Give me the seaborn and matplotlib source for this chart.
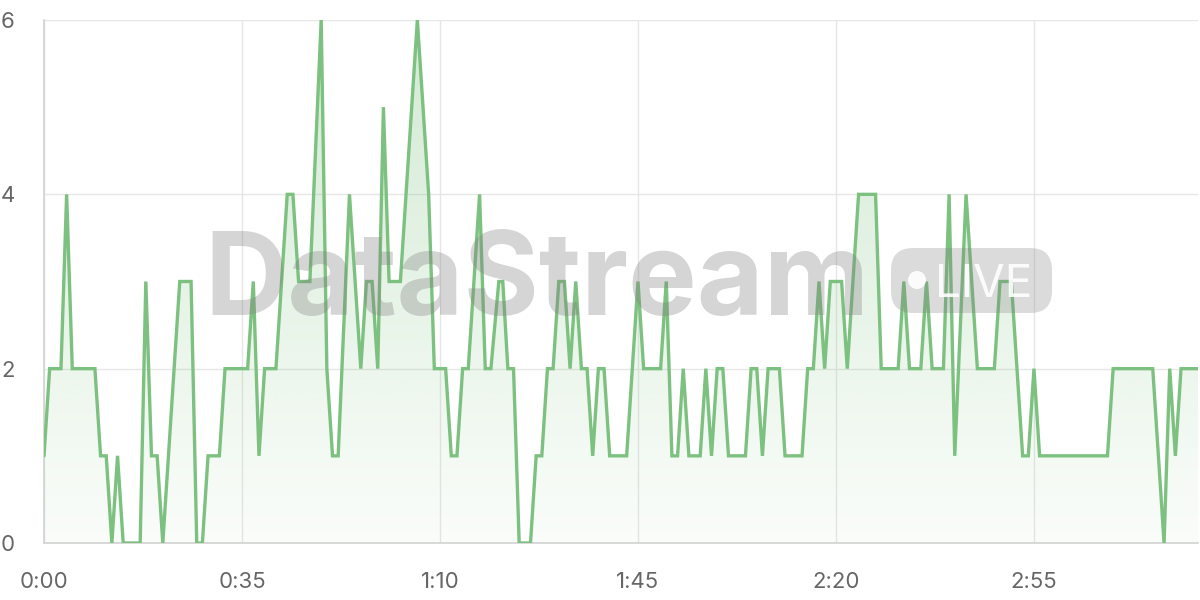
import numpy as np
import pandas as pd
import matplotlib
matplotlib.use("Agg")
import matplotlib.pyplot as plt
from matplotlib.colors import to_rgb
from matplotlib.patches import FancyBboxPatch, Circle
from matplotlib.ticker import FuncFormatter
import seaborn as sns

# readings (seconds since start, active count) - only the corners of the line
seconds = [0, 1, 3, 4, 5, 9, 10, 11, 12, 13, 14, 17, 18, 19, 20, 21, 24, 26, 27, 28,
           29, 31, 32, 36, 37, 38, 39, 41, 43, 44, 45, 47, 49, 50, 51, 52, 54, 56, 57, 58,
           59, 60, 61, 63, 66, 68, 69, 71, 72, 73, 74, 75, 77, 78, 79, 80.4, 81.1, 82, 83, 84,
           86, 87, 88, 89, 90, 91, 92, 93, 94, 95, 96, 97, 98, 99, 100, 103, 105, 106, 109, 110,
           111, 112, 113, 114, 116, 117, 118, 119, 120, 121, 124, 125, 126, 127, 128, 130, 131, 134, 135, 136,
           137, 138, 139, 141, 142, 144, 147, 148, 151, 152, 153, 155, 156, 157, 159, 160, 161, 163, 165, 168,
           169, 171, 173, 174, 175, 176, 188, 189, 196, 198, 199, 200, 201, 204]
counts = [1, 2, 2, 4, 2, 2, 1, 1, 0, 1, 0, 0, 3, 1, 1, 0, 3, 3, 0, 0,
          1, 1, 2, 2, 3, 1, 2, 2, 4, 4, 3, 3, 6, 2, 1, 1, 4, 2, 3, 3,
          2, 5, 3, 3, 6, 4, 2, 2, 1, 1, 2, 2, 4, 2, 2, 3, 3, 2, 2, 0,
          0, 1, 1, 2, 2, 3, 3, 2, 3, 2, 2, 1, 2, 2, 1, 1, 3, 2, 2, 3,
          1, 1, 2, 1, 1, 2, 1, 2, 2, 1, 1, 2, 2, 1, 2, 2, 1, 1, 2, 2,
          3, 2, 3, 3, 2, 4, 4, 2, 2, 3, 2, 2, 3, 2, 2, 4, 1, 4, 2, 2,
          3, 3, 1, 1, 2, 1, 1, 2, 2, 0, 2, 1, 2, 2]

x_ticks = [0, 35, 70, 105, 140, 175]
y_ticks = [0, 2, 4, 6]

df = pd.DataFrame({"t": seconds, "n": counts})

sns.set_style("white")
plt.rcParams["font.family"] = ["Inter", "DejaVu Sans"]

line_color = "#7cc17f"
grid_color = "#e6e6e6"

fig = plt.figure(figsize=(12, 6), dpi=100)
ax = fig.add_axes([44 / 1200, 1 - 543 / 600, (1198 - 44) / 1200, (543 - 20) / 600])

sns.lineplot(data=df, x="t", y="n", ax=ax, color=line_color, linewidth=2.4, zorder=3)
ax.lines[0].set_solid_joinstyle("miter")

# gradient area under the line
area = ax.fill_between(df["t"], df["n"], 0, facecolor="none", edgecolor="none")
grad = np.zeros((256, 1, 4))
grad[..., :3] = to_rgb(line_color)
grad[:, 0, 3] = np.linspace(0.34, 0.04, 256)
img = ax.imshow(grad, extent=[0, max(seconds), 0, max(y_ticks)], aspect="auto",
                origin="upper", zorder=1)
img.set_clip_path(area.get_paths()[0], transform=ax.transData)

ax.set_xlim(0, max(seconds))
ax.set_ylim(0, max(y_ticks))
ax.set_xticks(x_ticks)
ax.set_yticks(y_ticks)
ax.xaxis.set_major_formatter(FuncFormatter(lambda s, _: f"{int(s) // 60}:{int(s) % 60:02d}"))
ax.set_xlabel("")
ax.set_ylabel("")

ax.grid(True, color=grid_color, linewidth=1)
ax.set_axisbelow(True)
ax.tick_params(axis="both", length=15, width=1, color=grid_color,
               labelsize=16, labelcolor="#666666")
ax.tick_params(axis="y", pad=6)
ax.tick_params(axis="x", pad=6)
for side in ["top", "right"]:
    ax.spines[side].set_visible(False)
for side in ["left", "bottom"]:
    ax.spines[side].set_color("#d2d2d2")
    ax.spines[side].set_linewidth(1.2)

# watermark on top, pixel coordinates
wm = fig.add_axes([0, 0, 1, 1], zorder=5)
wm.set_xlim(0, 1200)
wm.set_ylim(600, 0)
wm.axis("off")
wm.patch.set_alpha(0)
wm.text(204, 315, "DataStream", fontsize=83, fontweight="bold", color="#808080",
        alpha=0.33, ha="left", va="baseline")
wm.add_patch(FancyBboxPatch((891, 248), 161, 65, boxstyle="round,pad=0,rounding_size=22",
                            fc="#808080", ec="none", alpha=0.28))
wm.add_patch(Circle((917, 280), 9, fc="white", ec="none", alpha=0.9))
wm.text(935, 280.5, "LIVE", fontsize=33, color="white", alpha=0.9,
        ha="left", va="center_baseline")

plt.savefig("out.png", dpi=100)
